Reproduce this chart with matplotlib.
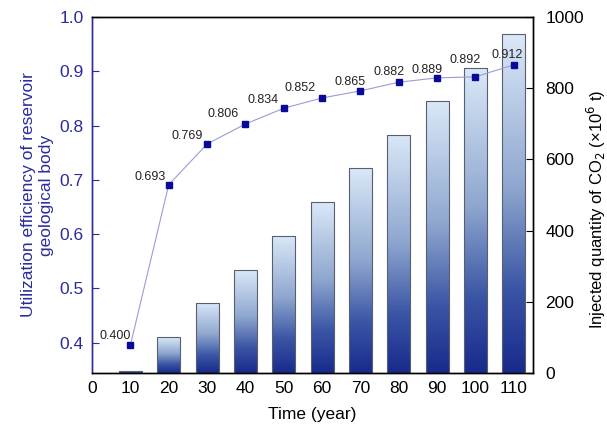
import matplotlib
matplotlib.use("Agg")
import matplotlib.pyplot as plt
from matplotlib.colors import LinearSegmentedColormap
import numpy as np

plt.rcParams['font.family'] = ['Liberation Sans', 'DejaVu Sans']

# Data
years = [10, 20, 30, 40, 50, 60, 70, 80, 90, 100, 110]
efficiency = [0.400, 0.693, 0.769, 0.806, 0.834, 0.852, 0.865, 0.882, 0.889, 0.892, 0.912]
eff_plot = [0.395, 0.691, 0.766, 0.803, 0.832, 0.851, 0.864, 0.880, 0.888, 0.890, 0.912]
injected = [6, 101, 197, 289, 385, 480, 576, 669, 764, 857, 952]
xticks = [0, 10, 20, 30, 40, 50, 60, 70, 80, 90, 100, 110]

# label offsets (pixels) relative to each marker
label_off = [(-15, 9), (-19, 8), (-20, 8), (-22, 10), (-21, 8), (-22, 10),
             (-10, 9), (-10, 10), (-10, 8), (-10, 17), (-7, 10)]

blue = '#2a2c9c'

fig = plt.figure(figsize=(6.07, 4.28), dpi=100)
ax1 = fig.add_axes([0.1516, 0.1285, 0.7264, 0.8315])
ax2 = ax1.twinx()

# bars with vertical gradient on right axis
cmap = LinearSegmentedColormap.from_list(
    'bar', [(0, '#182a8c'), (0.25, '#3b56a5'), (0.55, '#8fa7cf'), (1, '#dae8f8')])
bars = ax2.bar(years, injected, width=6, color='none', edgecolor='#5a5e6e', linewidth=0.8, zorder=3)
grad = np.linspace(0, 1, 256).reshape(-1, 1)
for b in bars:
    x0, w, h = b.get_x(), b.get_width(), b.get_height()
    im = ax2.imshow(grad, cmap=cmap, aspect='auto', origin='lower',
                    extent=[x0, x0 + w, 0, h], zorder=2)
    im.set_clip_path(b)
ax2.set_ylim(0, 1000)
ax2.set_yticks([0, 200, 400, 600, 800, 1000])
ax2.tick_params(axis='y', direction='in', length=5, labelsize=12.5, pad=9)
ax2.set_ylabel('Injected quantity of CO$_2$ (×10$^6$ t)', fontsize=12)
ax2.yaxis.set_label_coords(1.118, 0.46)

# line on left axis, drawn above bars
ax1.set_zorder(ax2.get_zorder() + 1)
ax1.patch.set_visible(False)
ax1.plot(years, eff_plot, color='#9b9bd6', linewidth=0.8, marker='s',
         markersize=5, markerfacecolor='#0a0a9a', markeredgecolor='#0a0a9a')
for x, y, v, (dx, dy) in zip(years, eff_plot, efficiency, label_off):
    ax1.annotate(f'{v:.3f}', (x, y), xytext=(dx, dy), textcoords='offset pixels',
                 ha='center', va='center', fontsize=9, color='#222222')

ax1.set_xlim(0, 115)
ax1.set_ylim(0.344, 1.0)
ax1.set_xticks(xticks)
ax1.set_yticks([0.4, 0.5, 0.6, 0.7, 0.8, 0.9, 1.0])
ax1.tick_params(axis='x', length=0, labelsize=12.5, pad=6)
ax1.tick_params(axis='y', direction='in', length=5, labelsize=12.5, colors=blue, pad=6)
ax1.set_xlabel('Time (year)', fontsize=12.5, labelpad=8)
ax1.set_ylabel('Utilization efficiency of reservoir\ngeological body', fontsize=12.5,
               color=blue, labelpad=4)

ax1.spines['left'].set_color(blue)
ax2.spines['left'].set_color(blue)
for ax in (ax1, ax2):
    for s in ax.spines.values():
        s.set_linewidth(1.0)

fig.savefig('out.png', dpi=100)
